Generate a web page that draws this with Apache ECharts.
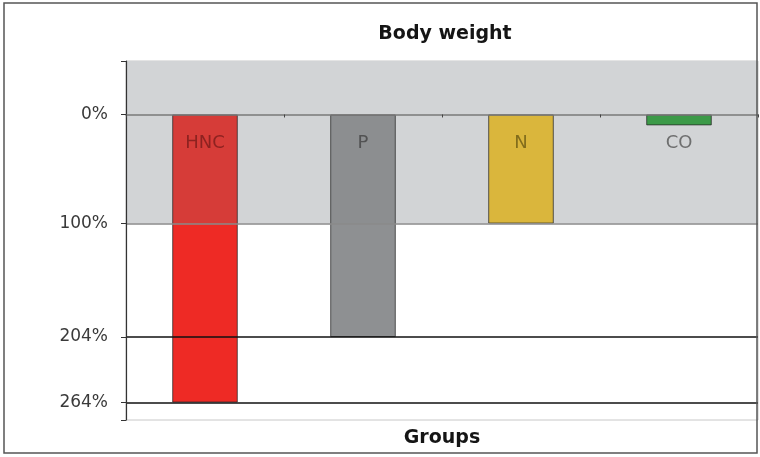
<!DOCTYPE html>
<html><head><meta charset="utf-8">
<script src="https://cdn.jsdelivr.net/npm/echarts@6/dist/echarts.min.js"></script>
<style>html,body{margin:0;padding:0;background:#fff}#c{width:760px;height:457px}</style>
</head><body><div id="c"></div>
<script>
const categories = ['HNC', 'P', 'N', 'CO'];
const values = [264, 204, 100, 10];
const barColors = ['#ee2a25', '#8e9092', '#dab63c', '#3c9a48'];
const bandColors = ['#d63c38', '#8c8e90', '#dab63c', '#3c9a48'];
const labelColors = ['#7a1c1a', '#444', '#6b5a14', '#555'];
const tickLabels = [0, 100, 204, 264];
const referenceLines = [204, 264];
const bandRange = [-49, 100];
const labelLevel = 26;

const chart = echarts.init(document.getElementById('c'));
const font = 'DejaVu Sans, Arial, sans-serif';

const barData = values.map((v, i) => {
  const split = Math.min(1, bandRange[1] / v);
  return {
    value: v,
    itemStyle: {
      color: {
        type: 'linear', x: 0, y: 0, x2: 0, y2: 1,
        colorStops: [
          { offset: 0, color: bandColors[i] },
          { offset: split, color: bandColors[i] },
          { offset: split, color: barColors[i] },
          { offset: 1, color: barColors[i] }
        ]
      }
    }
  };
});

chart.setOption({
  animation: false,
  title: [
    { text: 'Body weight', left: 440, top: 20, textAlign: 'center',
      textStyle: { fontFamily: font, fontSize: 19, fontWeight: 'bold', color: '#151515' } },
    { text: 'Groups', left: 437, top: 424, textAlign: 'center',
      textStyle: { fontFamily: font, fontSize: 19, fontWeight: 'bold', color: '#151515' } }
  ],
  graphic: [{
    type: 'rect', shape: { x: 4, y: 3, width: 753, height: 450 },
    style: { fill: 'none', stroke: '#555', lineWidth: 1.5 }, z: 100
  }],
  grid: { left: 126, top: 61, right: 2, bottom: 37, show: true, borderColor: '#c8c8c8', borderWidth: 1 },
  xAxis: {
    type: 'category', data: categories, position: 'top', z: 10,
    axisLine: { onZero: true, lineStyle: { color: '#7a7a7a', width: 1.5 } },
    axisTick: { show: true, inside: true, length: 3, lineStyle: { color: '#444' } },
    axisLabel: { show: false }, splitLine: { show: false }
  },
  yAxis: {
    type: 'value', inverse: true, min: bandRange[0], max: 280, z: 10,
    axisLine: { show: true, lineStyle: { color: '#333', width: 1.2 } },
    axisTick: { show: true, length: 5, customValues: [bandRange[0]].concat(tickLabels, [280]), lineStyle: { color: '#333' } },
    axisLabel: { customValues: tickLabels, formatter: '{value}%', fontFamily: font, fontSize: 17, color: '#3a3a3a', margin: 18 },
    splitLine: { show: false }
  },
  series: [
    {
      type: 'line', data: [], silent: true, z: 1,
      markArea: { silent: true, itemStyle: { color: '#d2d4d6' }, data: [[{ yAxis: bandRange[0] }, { yAxis: bandRange[1] }]] },
      markLine: {
        silent: true, symbol: 'none', label: { show: false },
        data: [
          { yAxis: bandRange[1], lineStyle: { color: '#8a8a8a', width: 1.5, type: 'solid' } }
        ].concat(referenceLines.map(v => ({ yAxis: v, lineStyle: { color: '#111', width: 1.5, type: 'solid' } })))
      }
    },
    {
      type: 'bar', data: barData, barWidth: '41.5%', z: 3,
      itemStyle: { borderColor: 'rgba(40,40,40,0.75)', borderWidth: 1 }
    },
    {
      type: 'scatter', symbolSize: 0, z: 4, silent: true,
      data: categories.map((c, i) => ({ value: labelLevel, label: { color: labelColors[i] } })),
      label: {
        show: true, position: 'inside',
        formatter: p => categories[p.dataIndex],
        fontFamily: font, fontSize: 18
      }
    }
  ]
});
</script></body></html>
